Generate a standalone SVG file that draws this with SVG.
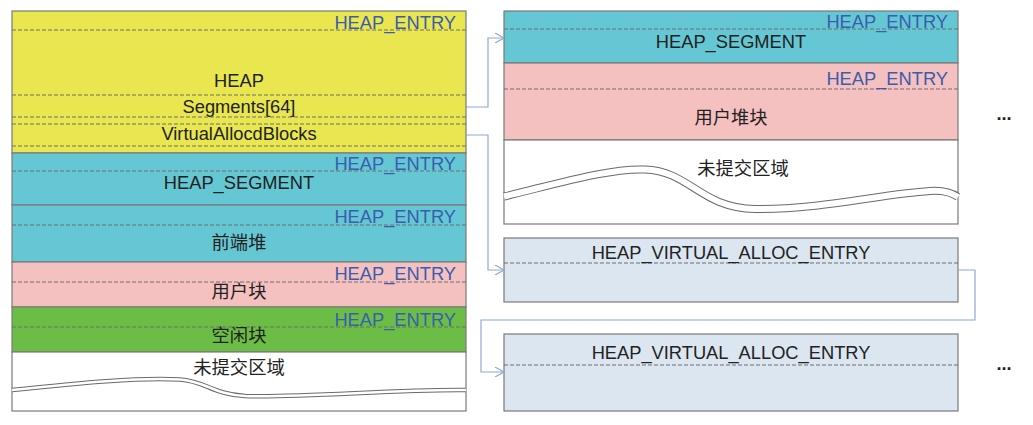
<svg xmlns="http://www.w3.org/2000/svg" width="1033" height="425" viewBox="0 0 1033 425">
<style>
.box{stroke:#7a7a7a;stroke-width:1.2}
.dash{stroke:#6f6f6f;stroke-width:1;stroke-dasharray:4 2;fill:none}
.t{font-family:"Liberation Sans","Noto Sans CJK SC",sans-serif;font-size:18.3px;fill:#222;text-anchor:middle}
.e{font-family:"Liberation Sans",sans-serif;font-size:18.3px;fill:#3a5dae;text-anchor:end}
.conn{stroke:#8eaad2;stroke-width:1.2;fill:none}
.w1{stroke:#6a6a6a;stroke-width:4.5;fill:none}
.w2{stroke:#fff;stroke-width:2.6;fill:none}
</style>
<defs>
<marker id="arr" viewBox="0 0 10 10" refX="10" refY="5" markerWidth="10" markerHeight="10" markerUnits="userSpaceOnUse" orient="auto">
<path d="M1,0 L10,5 L1,10" fill="none" stroke="#8eaad2" stroke-width="1.2"/>
</marker>
</defs>
<rect width="1033" height="425" fill="#fff"/>

<g id="heap">
<rect class="box" x="12" y="11" width="454" height="142" fill="#e9e64f"/>
<line class="dash" x1="12" y1="30" x2="466" y2="30"/>
<text class="e" x="456" y="29">HEAP_ENTRY</text>
<text class="t" x="239" y="87">HEAP</text>
<line class="dash" x1="12" y1="95" x2="466" y2="95"/>
<text class="t" x="239" y="113">Segments[64]</text>
<line class="dash" x1="12" y1="117" x2="466" y2="117"/>
<line class="dash" x1="12" y1="124" x2="466" y2="124"/>
<text class="t" x="239" y="140">VirtualAllocdBlocks</text>
<line class="dash" x1="12" y1="146" x2="466" y2="146"/>
</g>

<g id="left-segment">
<rect class="box" x="12" y="153" width="454" height="52" fill="#65c7d3"/>
<line class="dash" x1="12" y1="171" x2="466" y2="171"/>
<text class="e" x="456" y="170">HEAP_ENTRY</text>
<text class="t" x="239" y="189">HEAP_SEGMENT</text>
</g>

<g id="frontend-heap">
<rect class="box" x="12" y="205" width="454" height="57" fill="#65c7d3"/>
<line class="dash" x1="12" y1="225" x2="466" y2="225"/>
<text class="e" x="456" y="223">HEAP_ENTRY</text>
<text class="t" x="239" y="249">前端堆</text>
</g>

<g id="user-block">
<rect class="box" x="12" y="262" width="454" height="45" fill="#f5c0c0"/>
<line class="dash" x1="12" y1="282" x2="466" y2="282"/>
<text class="e" x="456" y="280">HEAP_ENTRY</text>
<text class="t" x="239" y="298">用户块</text>
</g>

<g id="free-block">
<rect class="box" x="12" y="307" width="454" height="45" fill="#6cbd45"/>
<line class="dash" x1="12" y1="327" x2="466" y2="327"/>
<text class="e" x="456" y="326">HEAP_ENTRY</text>
<text class="t" x="239" y="342">空闲块</text>
</g>

<g id="left-uncommitted">
<rect class="box" x="12" y="352" width="454" height="59" fill="#fff"/>
<text class="t" x="239" y="374">未提交区域</text>
<path class="w1" d="M12,390 C80,383 140,377 180,379.5 C205,381 212,394 245,396 C300,398 400,389 466,390"/>
<path class="w2" d="M12,390 C80,383 140,377 180,379.5 C205,381 212,394 245,396 C300,398 400,389 466,390"/>
</g>

<g id="right-segment">
<rect class="box" x="504" y="11" width="454" height="52" fill="#65c7d3"/>
<line class="dash" x1="504" y1="29" x2="958" y2="29"/>
<text class="e" x="948" y="28">HEAP_ENTRY</text>
<text class="t" x="731" y="48">HEAP_SEGMENT</text>
</g>

<g id="user-heap-block">
<rect class="box" x="504" y="63" width="454" height="77" fill="#f5c0c0"/>
<line class="dash" x1="504" y1="89" x2="958" y2="89"/>
<text class="e" x="948" y="85">HEAP_ENTRY</text>
<text class="t" x="731" y="124">用户堆块</text>
</g>

<g id="right-uncommitted">
<rect class="box" x="504" y="140" width="454" height="84" fill="#fff"/>
<text class="t" x="743" y="175">未提交区域</text>
<path d="M504,196.5 C560,183 610,168 645,169.5 C690,171 700,208 755,209 C820,210 880,194 930,191 C945,190 952,193 958,197" stroke="#6a6a6a" stroke-width="8" fill="none"/>
<path d="M504,196.5 C560,183 610,168 645,169.5 C690,171 700,208 755,209 C820,210 880,194 930,191 C945,190 952,193 958,197" stroke="#fff" stroke-width="6" fill="none"/>
</g>

<g id="vae1">
<rect class="box" x="504" y="238" width="454" height="64" fill="#dce6f0"/>
<line class="dash" x1="504" y1="263" x2="958" y2="263"/>
<text class="t" x="731" y="259">HEAP_VIRTUAL_ALLOC_ENTRY</text>
</g>

<g id="vae2">
<rect class="box" x="504" y="334" width="454" height="77" fill="#dce6f0"/>
<line class="dash" x1="504" y1="365" x2="958" y2="365"/>
<text class="t" x="731" y="359">HEAP_VIRTUAL_ALLOC_ENTRY</text>
</g>

<g id="connectors">
<path class="conn" d="M466,107 H488 V38 H504" marker-end="url(#arr)"/>
<path class="conn" d="M466,135 H488 V270 H504" marker-end="url(#arr)"/>
<path class="conn" d="M958,270 H975 V320 H481 V372 H504" marker-end="url(#arr)"/>
</g>

<g id="ellipses">
<text class="t" x="1004" y="120" font-weight="bold">...</text>
<text class="t" x="1004" y="370" font-weight="bold">...</text>
</g>
</svg>
